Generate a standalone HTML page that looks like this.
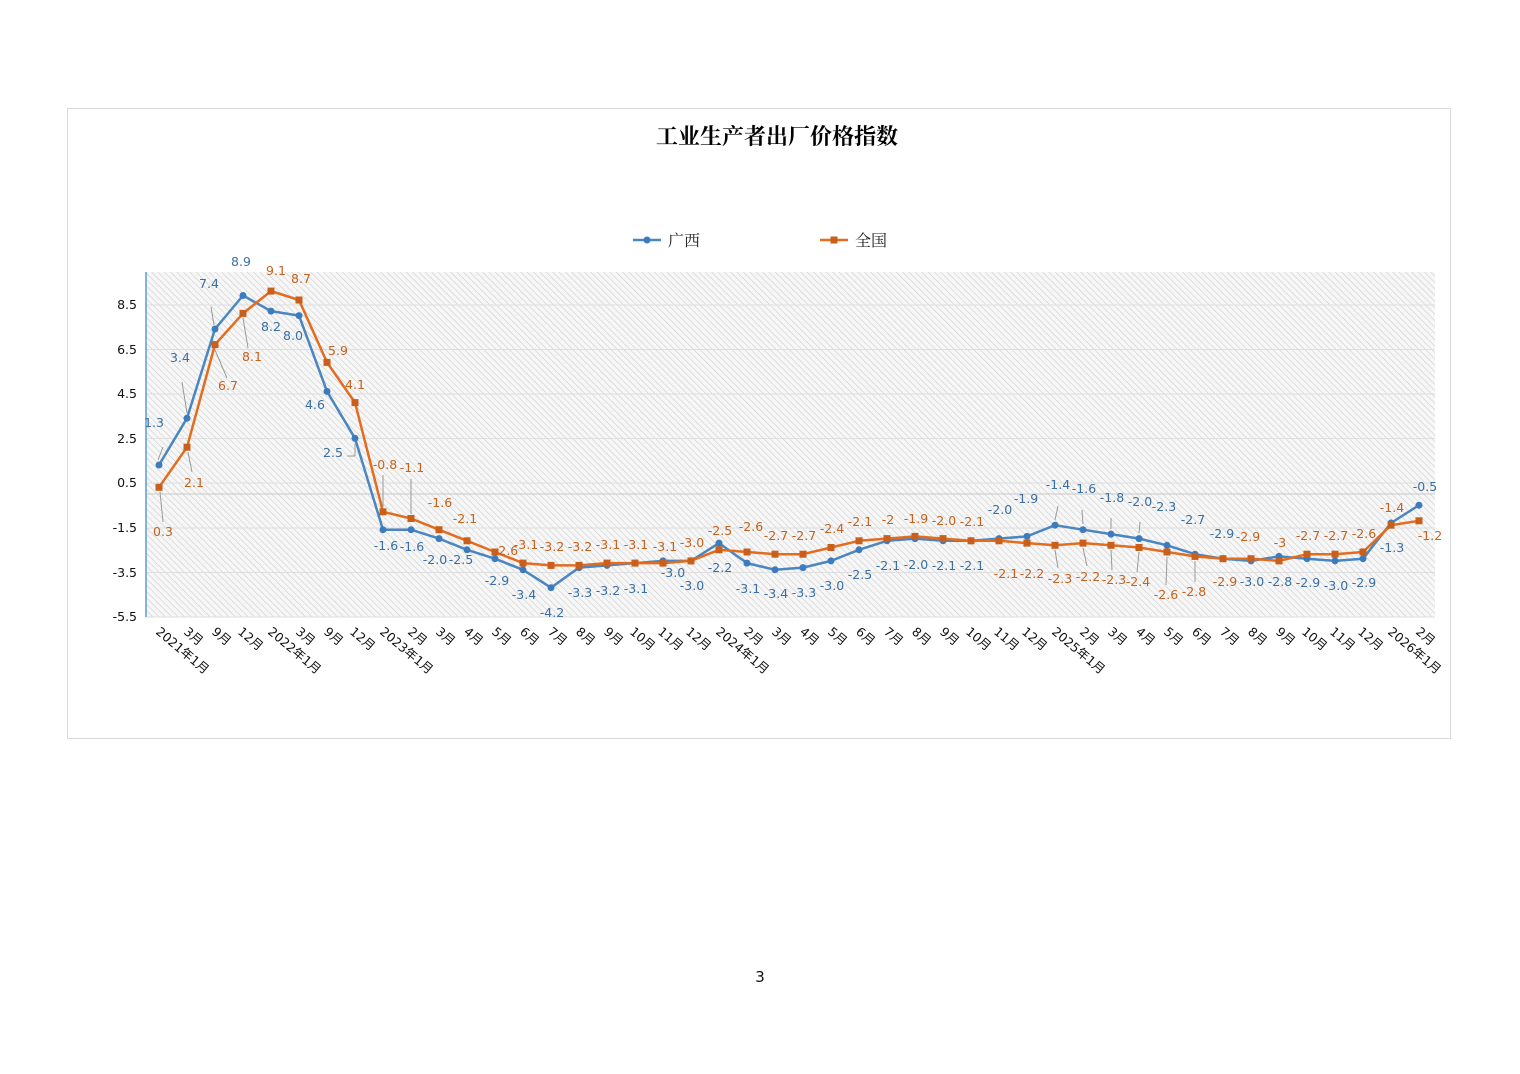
<!DOCTYPE html>
<html><head><meta charset="utf-8"><style>
html,body{margin:0;padding:0;background:#fff;}
svg{display:block;}
.gx{font-family:"DejaVu Sans","Liberation Sans","Noto Sans CJK SC",sans-serif;font-size:12.5px;fill:#3a6fa3;text-anchor:middle;}
.qg{font-family:"DejaVu Sans","Liberation Sans","Noto Sans CJK SC",sans-serif;font-size:12.5px;fill:#c5621e;text-anchor:middle;}
.ax{font-family:"DejaVu Sans","Liberation Sans","Noto Sans CJK SC",sans-serif;font-size:12.5px;fill:#111;}
</style></head><body>
<svg width="1520" height="1074" viewBox="0 0 1520 1074" xmlns="http://www.w3.org/2000/svg">
<defs>
<pattern id="h" width="4.5" height="4.5" patternUnits="userSpaceOnUse" patternTransform="rotate(-45)">
<rect width="4.5" height="4.5" fill="#f7f7f7"/>
<line x1="0" y1="0" x2="0" y2="4.5" stroke="#cdcdcd" stroke-width="1.2"/>
</pattern>
</defs>
<rect x="67.5" y="108.5" width="1383" height="630" fill="#fff" stroke="#d9d9d9"/>
<text x="777" y="144" text-anchor="middle" style="font-family:'Liberation Serif','Noto Serif CJK SC',serif;font-size:22px;font-weight:bold;fill:#000">工业生产者出厂价格指数</text>
<line x1="633" y1="240" x2="661" y2="240" stroke="#4a86c0" stroke-width="2.5"/><circle cx="647" cy="240" r="3.5" fill="#3d7bbd"/>
<text x="668" y="246" style="font-family:'Liberation Serif','Noto Serif CJK SC',serif;font-size:16px;fill:#222">广西</text>
<line x1="820" y1="240" x2="848" y2="240" stroke="#e36c1f" stroke-width="2.5"/><rect x="830.5" y="236.5" width="7" height="7" fill="#c95f1a"/>
<text x="855" y="246" style="font-family:'Liberation Serif','Noto Serif CJK SC',serif;font-size:16px;fill:#222">全国</text>

<rect x="146" y="272" width="1289" height="345" fill="url(#h)"/>
<g stroke="#dedede" stroke-width="1">
<line x1="146" y1="305" x2="1435" y2="305"/><line x1="146" y1="349.5" x2="1435" y2="349.5"/><line x1="146" y1="394" x2="1435" y2="394"/><line x1="146" y1="438.5" x2="1435" y2="438.5"/><line x1="146" y1="483" x2="1435" y2="483"/><line x1="146" y1="528" x2="1435" y2="528"/><line x1="146" y1="572.5" x2="1435" y2="572.5"/><line x1="146" y1="617" x2="1435" y2="617"/>
</g>
<line x1="146" y1="494" x2="1435" y2="494" stroke="#c8c8c8" stroke-width="1"/>
<line x1="146" y1="272" x2="146" y2="617" stroke="#5b9bd5" stroke-width="1.5"/>
<g class="ax" text-anchor="end">
<text x="137" y="309" text-anchor="end">8.5</text><text x="137" y="354" text-anchor="end">6.5</text><text x="137" y="398" text-anchor="end">4.5</text><text x="137" y="443" text-anchor="end">2.5</text><text x="137" y="487" text-anchor="end">0.5</text><text x="137" y="532" text-anchor="end">-1.5</text><text x="137" y="577" text-anchor="end">-3.5</text><text x="137" y="621" text-anchor="end">-5.5</text>
</g>

<polyline fill="none" stroke="#4a86c0" stroke-width="2.5" stroke-linejoin="round" points="159,465 187,418.2 215,329 243,295.5 271,311.1 299,315.6 327,391.4 355,438.3 383,529.7 411,529.7 439,538.6 467,549.8 495,558.7 523,569.8 551,587.7 579,567.6 607,565.4 635,563.1 663,560.9 691,560.9 719,543.1 747,563.1 775,569.8 803,567.6 831,560.9 859,549.8 887,540.8 915,538.6 943,540.8 971,540.8 999,538.6 1027,536.4 1055,525.2 1083,529.7 1111,534.1 1139,538.6 1167,545.3 1195,554.2 1223,558.7 1251,560.9 1279,556.4 1307,558.7 1335,560.9 1363,558.7 1391,523 1419,505.2"/>
<polyline fill="none" stroke="#e36c1f" stroke-width="2.5" stroke-linejoin="round" points="159,487.3 187,447.2 215,344.6 243,313.4 271,291.1 299,300 327,362.4 355,402.6 383,511.8 411,518.5 439,529.7 467,540.8 495,552 523,563.1 551,565.4 579,565.4 607,563.1 635,563.1 663,563.1 691,560.9 719,549.8 747,552 775,554.2 803,554.2 831,547.5 859,540.8 887,538.6 915,536.4 943,538.6 971,540.8 999,540.8 1027,543.1 1055,545.3 1083,543.1 1111,545.3 1139,547.5 1167,552 1195,556.4 1223,558.7 1251,558.7 1279,560.9 1307,554.2 1335,554.2 1363,552 1391,525.2 1419,520.8"/>
<g fill="#3d7bbd">
<circle cx="159" cy="465" r="3.5"/><circle cx="187" cy="418.2" r="3.5"/><circle cx="215" cy="329" r="3.5"/><circle cx="243" cy="295.5" r="3.5"/><circle cx="271" cy="311.1" r="3.5"/><circle cx="299" cy="315.6" r="3.5"/><circle cx="327" cy="391.4" r="3.5"/><circle cx="355" cy="438.3" r="3.5"/><circle cx="383" cy="529.7" r="3.5"/><circle cx="411" cy="529.7" r="3.5"/><circle cx="439" cy="538.6" r="3.5"/><circle cx="467" cy="549.8" r="3.5"/><circle cx="495" cy="558.7" r="3.5"/><circle cx="523" cy="569.8" r="3.5"/><circle cx="551" cy="587.7" r="3.5"/><circle cx="579" cy="567.6" r="3.5"/><circle cx="607" cy="565.4" r="3.5"/><circle cx="635" cy="563.1" r="3.5"/><circle cx="663" cy="560.9" r="3.5"/><circle cx="691" cy="560.9" r="3.5"/><circle cx="719" cy="543.1" r="3.5"/><circle cx="747" cy="563.1" r="3.5"/><circle cx="775" cy="569.8" r="3.5"/><circle cx="803" cy="567.6" r="3.5"/><circle cx="831" cy="560.9" r="3.5"/><circle cx="859" cy="549.8" r="3.5"/><circle cx="887" cy="540.8" r="3.5"/><circle cx="915" cy="538.6" r="3.5"/><circle cx="943" cy="540.8" r="3.5"/><circle cx="971" cy="540.8" r="3.5"/><circle cx="999" cy="538.6" r="3.5"/><circle cx="1027" cy="536.4" r="3.5"/><circle cx="1055" cy="525.2" r="3.5"/><circle cx="1083" cy="529.7" r="3.5"/><circle cx="1111" cy="534.1" r="3.5"/><circle cx="1139" cy="538.6" r="3.5"/><circle cx="1167" cy="545.3" r="3.5"/><circle cx="1195" cy="554.2" r="3.5"/><circle cx="1223" cy="558.7" r="3.5"/><circle cx="1251" cy="560.9" r="3.5"/><circle cx="1279" cy="556.4" r="3.5"/><circle cx="1307" cy="558.7" r="3.5"/><circle cx="1335" cy="560.9" r="3.5"/><circle cx="1363" cy="558.7" r="3.5"/><circle cx="1391" cy="523" r="3.5"/><circle cx="1419" cy="505.2" r="3.5"/>
</g>
<g fill="#c95f1a">
<rect x="155.5" y="483.8" width="7" height="7"/><rect x="183.5" y="443.7" width="7" height="7"/><rect x="211.5" y="341.1" width="7" height="7"/><rect x="239.5" y="309.9" width="7" height="7"/><rect x="267.5" y="287.6" width="7" height="7"/><rect x="295.5" y="296.5" width="7" height="7"/><rect x="323.5" y="358.9" width="7" height="7"/><rect x="351.5" y="399.1" width="7" height="7"/><rect x="379.5" y="508.3" width="7" height="7"/><rect x="407.5" y="515" width="7" height="7"/><rect x="435.5" y="526.2" width="7" height="7"/><rect x="463.5" y="537.3" width="7" height="7"/><rect x="491.5" y="548.5" width="7" height="7"/><rect x="519.5" y="559.6" width="7" height="7"/><rect x="547.5" y="561.9" width="7" height="7"/><rect x="575.5" y="561.9" width="7" height="7"/><rect x="603.5" y="559.6" width="7" height="7"/><rect x="631.5" y="559.6" width="7" height="7"/><rect x="659.5" y="559.6" width="7" height="7"/><rect x="687.5" y="557.4" width="7" height="7"/><rect x="715.5" y="546.3" width="7" height="7"/><rect x="743.5" y="548.5" width="7" height="7"/><rect x="771.5" y="550.7" width="7" height="7"/><rect x="799.5" y="550.7" width="7" height="7"/><rect x="827.5" y="544" width="7" height="7"/><rect x="855.5" y="537.3" width="7" height="7"/><rect x="883.5" y="535.1" width="7" height="7"/><rect x="911.5" y="532.9" width="7" height="7"/><rect x="939.5" y="535.1" width="7" height="7"/><rect x="967.5" y="537.3" width="7" height="7"/><rect x="995.5" y="537.3" width="7" height="7"/><rect x="1023.5" y="539.6" width="7" height="7"/><rect x="1051.5" y="541.8" width="7" height="7"/><rect x="1079.5" y="539.6" width="7" height="7"/><rect x="1107.5" y="541.8" width="7" height="7"/><rect x="1135.5" y="544" width="7" height="7"/><rect x="1163.5" y="548.5" width="7" height="7"/><rect x="1191.5" y="552.9" width="7" height="7"/><rect x="1219.5" y="555.2" width="7" height="7"/><rect x="1247.5" y="555.2" width="7" height="7"/><rect x="1275.5" y="557.4" width="7" height="7"/><rect x="1303.5" y="550.7" width="7" height="7"/><rect x="1331.5" y="550.7" width="7" height="7"/><rect x="1359.5" y="548.5" width="7" height="7"/><rect x="1387.5" y="521.7" width="7" height="7"/><rect x="1415.5" y="517.3" width="7" height="7"/>
</g>

<g stroke="#999" stroke-width="1">
<line x1="163" y1="447" x2="158" y2="460"/><line x1="182" y1="382" x2="187" y2="413"/><line x1="211" y1="307" x2="214" y2="325"/>
<line x1="160" y1="492" x2="163" y2="522"/><line x1="188" y1="452" x2="192" y2="472"/><line x1="215" y1="350" x2="227" y2="378"/><line x1="243" y1="318" x2="248" y2="348"/>
<line x1="347" y1="456" x2="355" y2="456"/><line x1="355" y1="444" x2="355" y2="456"/>
<line x1="383" y1="507" x2="383" y2="475"/><line x1="411" y1="514" x2="411" y2="479"/>
<line x1="1055" y1="520" x2="1058" y2="506"/><line x1="1083" y1="524" x2="1082" y2="510"/><line x1="1111" y1="529" x2="1111" y2="518"/><line x1="1139" y1="533" x2="1140" y2="522"/>
<line x1="1055" y1="550" x2="1058" y2="568"/><line x1="1083" y1="548" x2="1087" y2="566"/><line x1="1111" y1="550" x2="1112" y2="570"/><line x1="1139" y1="552" x2="1137" y2="572"/><line x1="1167" y1="557" x2="1166" y2="585"/><line x1="1195" y1="561" x2="1195" y2="582"/>
</g>

<g class="gx">
<text x="154" y="427">1.3</text><text x="180" y="362">3.4</text><text x="209" y="288">7.4</text><text x="241" y="266">8.9</text><text x="271" y="331">8.2</text><text x="293" y="340">8.0</text><text x="315" y="409">4.6</text><text x="333" y="457">2.5</text>
<text x="386" y="550">-1.6</text><text x="412" y="551">-1.6</text><text x="435" y="564">-2.0</text><text x="461" y="564">-2.5</text><text x="497" y="585">-2.9</text><text x="524" y="599">-3.4</text><text x="552" y="617">-4.2</text><text x="580" y="597">-3.3</text><text x="608" y="595">-3.2</text><text x="636" y="593">-3.1</text><text x="673" y="577">-3.0</text><text x="692" y="590">-3.0</text>
<text x="720" y="572">-2.2</text><text x="748" y="593">-3.1</text><text x="776" y="598">-3.4</text><text x="804" y="597">-3.3</text><text x="832" y="590">-3.0</text><text x="860" y="579">-2.5</text><text x="888" y="570">-2.1</text><text x="916" y="569">-2.0</text><text x="944" y="570">-2.1</text><text x="972" y="570">-2.1</text><text x="1000" y="514">-2.0</text><text x="1026" y="503">-1.9</text>
<text x="1058" y="489">-1.4</text><text x="1084" y="493">-1.6</text><text x="1112" y="502">-1.8</text><text x="1140" y="506">-2.0</text><text x="1164" y="511">-2.3</text><text x="1193" y="524">-2.7</text><text x="1222" y="538">-2.9</text><text x="1252" y="586">-3.0</text><text x="1280" y="586">-2.8</text><text x="1308" y="587">-2.9</text><text x="1336" y="590">-3.0</text><text x="1364" y="587">-2.9</text><text x="1392" y="552">-1.3</text><text x="1425" y="491">-0.5</text>
</g>
<g class="qg">
<text x="163" y="536">0.3</text><text x="194" y="487">2.1</text><text x="228" y="390">6.7</text><text x="252" y="361">8.1</text><text x="276" y="275">9.1</text><text x="301" y="283">8.7</text><text x="338" y="355">5.9</text><text x="355" y="389">4.1</text>
<text x="385" y="469">-0.8</text><text x="412" y="472">-1.1</text><text x="440" y="507">-1.6</text><text x="465" y="523">-2.1</text><text x="506" y="555">-2.6</text><text x="526" y="549">-3.1</text><text x="552" y="551">-3.2</text><text x="580" y="551">-3.2</text><text x="608" y="549">-3.1</text><text x="636" y="549">-3.1</text><text x="665" y="551">-3.1</text><text x="692" y="547">-3.0</text>
<text x="720" y="535">-2.5</text><text x="751" y="531">-2.6</text><text x="776" y="540">-2.7</text><text x="804" y="540">-2.7</text><text x="832" y="533">-2.4</text><text x="860" y="526">-2.1</text><text x="888" y="524">-2</text><text x="916" y="523">-1.9</text><text x="944" y="525">-2.0</text><text x="972" y="526">-2.1</text><text x="1006" y="578">-2.1</text><text x="1032" y="578">-2.2</text>
<text x="1060" y="583">-2.3</text><text x="1088" y="581">-2.2</text><text x="1114" y="584">-2.3</text><text x="1138" y="586">-2.4</text><text x="1166" y="599">-2.6</text><text x="1194" y="596">-2.8</text><text x="1225" y="586">-2.9</text><text x="1248" y="541">-2.9</text><text x="1280" y="547">-3</text><text x="1308" y="540">-2.7</text><text x="1336" y="540">-2.7</text><text x="1364" y="538">-2.6</text><text x="1392" y="512">-1.4</text><text x="1430" y="540">-1.2</text>
</g>

<g class="ax">
<text x="155" y="633" transform="rotate(40 155 633)">2021年1月</text>
<text x="183" y="633" transform="rotate(40 183 633)">3月</text>
<text x="211" y="633" transform="rotate(40 211 633)">9月</text>
<text x="237" y="633" transform="rotate(40 237 633)">12月</text>
<text x="267" y="633" transform="rotate(40 267 633)">2022年1月</text>
<text x="295" y="633" transform="rotate(40 295 633)">3月</text>
<text x="323" y="633" transform="rotate(40 323 633)">9月</text>
<text x="349" y="633" transform="rotate(40 349 633)">12月</text>
<text x="379" y="633" transform="rotate(40 379 633)">2023年1月</text>
<text x="407" y="633" transform="rotate(40 407 633)">2月</text>
<text x="435" y="633" transform="rotate(40 435 633)">3月</text>
<text x="463" y="633" transform="rotate(40 463 633)">4月</text>
<text x="491" y="633" transform="rotate(40 491 633)">5月</text>
<text x="519" y="633" transform="rotate(40 519 633)">6月</text>
<text x="547" y="633" transform="rotate(40 547 633)">7月</text>
<text x="575" y="633" transform="rotate(40 575 633)">8月</text>
<text x="603" y="633" transform="rotate(40 603 633)">9月</text>
<text x="629" y="633" transform="rotate(40 629 633)">10月</text>
<text x="657" y="633" transform="rotate(40 657 633)">11月</text>
<text x="685" y="633" transform="rotate(40 685 633)">12月</text>
<text x="715" y="633" transform="rotate(40 715 633)">2024年1月</text>
<text x="743" y="633" transform="rotate(40 743 633)">2月</text>
<text x="771" y="633" transform="rotate(40 771 633)">3月</text>
<text x="799" y="633" transform="rotate(40 799 633)">4月</text>
<text x="827" y="633" transform="rotate(40 827 633)">5月</text>
<text x="855" y="633" transform="rotate(40 855 633)">6月</text>
<text x="883" y="633" transform="rotate(40 883 633)">7月</text>
<text x="911" y="633" transform="rotate(40 911 633)">8月</text>
<text x="939" y="633" transform="rotate(40 939 633)">9月</text>
<text x="965" y="633" transform="rotate(40 965 633)">10月</text>
<text x="993" y="633" transform="rotate(40 993 633)">11月</text>
<text x="1021" y="633" transform="rotate(40 1021 633)">12月</text>
<text x="1051" y="633" transform="rotate(40 1051 633)">2025年1月</text>
<text x="1079" y="633" transform="rotate(40 1079 633)">2月</text>
<text x="1107" y="633" transform="rotate(40 1107 633)">3月</text>
<text x="1135" y="633" transform="rotate(40 1135 633)">4月</text>
<text x="1163" y="633" transform="rotate(40 1163 633)">5月</text>
<text x="1191" y="633" transform="rotate(40 1191 633)">6月</text>
<text x="1219" y="633" transform="rotate(40 1219 633)">7月</text>
<text x="1247" y="633" transform="rotate(40 1247 633)">8月</text>
<text x="1275" y="633" transform="rotate(40 1275 633)">9月</text>
<text x="1301" y="633" transform="rotate(40 1301 633)">10月</text>
<text x="1329" y="633" transform="rotate(40 1329 633)">11月</text>
<text x="1357" y="633" transform="rotate(40 1357 633)">12月</text>
<text x="1387" y="633" transform="rotate(40 1387 633)">2026年1月</text>
<text x="1415" y="633" transform="rotate(40 1415 633)">2月</text>
</g>

<text x="760" y="982" text-anchor="middle" style="font-family:'DejaVu Sans','Liberation Sans',sans-serif;font-size:15px;fill:#111">3</text>
</svg>
</body></html>
